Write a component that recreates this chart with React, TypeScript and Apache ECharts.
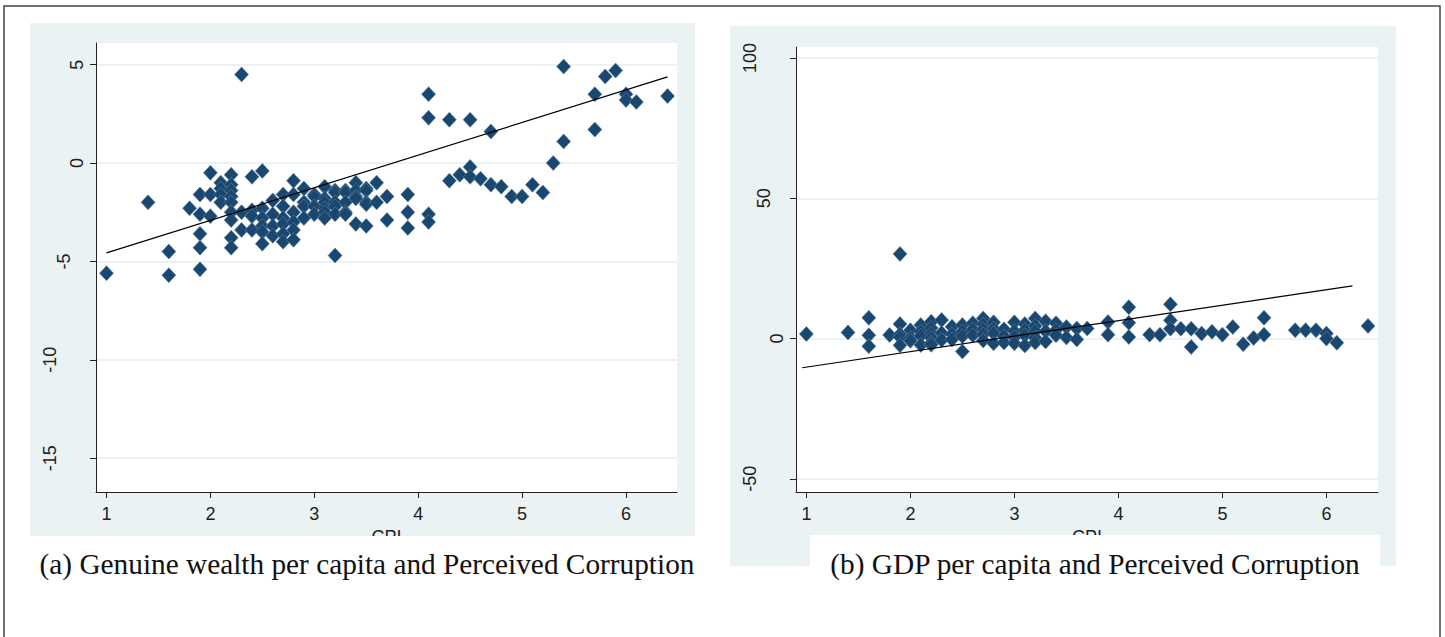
import React, { useEffect, useRef } from "react";
import * as echarts from "echarts";

// ---- Panel (a): Genuine wealth per capita vs CPI ----
const wealthCpi = [
  1.0, 1.4, 1.6, 1.6, 1.8,
  1.9, 1.9, 1.9, 1.9, 1.9,
  2.0, 2.0, 2.0,
  2.1, 2.1, 2.1, 2.1,
  2.2, 2.2, 2.2, 2.2, 2.2, 2.2, 2.2, 2.2, 2.2,
  2.3, 2.3, 2.3,
  2.4, 2.4, 2.4, 2.4,
  2.5, 2.5, 2.5, 2.5, 2.5, 2.5,
  2.6, 2.6, 2.6, 2.6,
  2.7, 2.7, 2.7, 2.7, 2.7, 2.7,
  2.8, 2.8, 2.8, 2.8, 2.8, 2.8,
  2.9, 2.9, 2.9, 2.9,
  3.0, 3.0, 3.0, 3.0,
  3.1, 3.1, 3.1, 3.1, 3.1, 3.1,
  3.2, 3.2, 3.2, 3.2, 3.2, 3.2,
  3.3, 3.3, 3.3, 3.3, 3.3,
  3.4, 3.4, 3.4, 3.4, 3.4,
  3.5, 3.5, 3.5, 3.5, 3.5,
  3.6, 3.6, 3.7, 3.7,
  3.9, 3.9, 3.9,
  4.1, 4.1, 4.1, 4.1,
  4.3, 4.3, 4.4,
  4.5, 4.5, 4.5, 4.6,
  4.7, 4.7, 4.8, 4.9, 5.0, 5.1, 5.2, 5.3,
  5.4, 5.4, 5.7, 5.7, 5.8, 5.9, 6.0, 6.0, 6.1, 6.4,
];
const wealthValues = [
  -5.6, -2.0, -4.5, -5.7, -2.3,
  -1.6, -2.6, -3.6, -4.3, -5.4,
  -0.5, -1.6, -2.7,
  -1.0, -1.3, -1.6, -2.0,
  -0.6, -1.1, -1.4, -1.7, -2.0, -2.5, -2.9, -3.8, -4.3,
  4.5, -2.5, -3.4,
  -0.7, -2.4, -2.7, -3.4,
  -0.4, -2.3, -2.8, -3.2, -3.5, -4.1,
  -1.9, -2.6, -3.2, -3.7,
  -1.6, -2.2, -2.8, -3.1, -3.6, -4.0,
  -0.9, -1.6, -2.5, -3.0, -3.4, -3.9,
  -1.3, -2.0, -2.2, -2.8,
  -1.6, -1.7, -2.2, -2.6,
  -1.2, -1.8, -2.0, -2.3, -2.5, -2.8,
  -1.4, -1.5, -2.0, -2.2, -2.6, -4.7,
  -1.4, -1.5, -2.0, -2.5, -2.6,
  -1.0, -1.4, -1.7, -1.8, -3.1,
  -1.3, -1.4, -2.0, -2.1, -3.2,
  -1.0, -2.0, -1.7, -2.9,
  -1.6, -2.5, -3.3,
  3.5, 2.3, -2.6, -3.0,
  2.2, -0.9, -0.6,
  2.2, -0.2, -0.7, -0.8,
  1.6, -1.1, -1.2, -1.7, -1.7, -1.1, -1.5, 0.0,
  4.9, 1.1, 3.5, 1.7, 4.4, 4.7, 3.5, 3.2, 3.1, 3.4,
];
const wealthFitX = [1.0, 6.4];
const wealthFitY = [-4.57, 4.38];
const wealthYTicks = [-15, -10, -5, 0, 5];

// ---- Panel (b): GDP per capita vs CPI ----
const gdpCpi = [
  1.0, 1.4, 1.6, 1.6, 1.6, 1.8,
  1.9, 1.9, 1.9, 1.9, 1.9,
  2.0, 2.0, 2.0,
  2.1, 2.1, 2.1, 2.1,
  2.2, 2.2, 2.2, 2.2, 2.2, 2.2,
  2.3, 2.3, 2.3,
  2.4, 2.4, 2.4,
  2.5, 2.5, 2.5, 2.5,
  2.6, 2.6, 2.6,
  2.7, 2.7, 2.7, 2.7, 2.7,
  2.8, 2.8, 2.8, 2.8,
  2.9, 2.9, 2.9,
  3.0, 3.0, 3.0, 3.0,
  3.1, 3.1, 3.1, 3.1,
  3.2, 3.2, 3.2, 3.2, 3.2,
  3.3, 3.3, 3.3,
  3.4, 3.4, 3.4,
  3.5, 3.5, 3.6, 3.6, 3.7,
  3.9, 3.9, 4.1, 4.1, 4.1,
  4.3, 4.4, 4.5, 4.5, 4.5, 4.6, 4.7, 4.7,
  4.8, 4.9, 5.0, 5.1, 5.2, 5.3, 5.4, 5.4,
  5.7, 5.8, 5.9, 6.0, 6.0, 6.1, 6.4,
];
const gdpValues = [
  1.6, 2.2, 7.4, 1.2, -2.7, 1.3,
  30.2, 5.2, 1.5, 0.5, -2.4,
  3.0, 0.2, -0.8,
  4.8, 2.5, 1.0, -2.3,
  6.0, 3.8, 1.8, 0.3, -1.5, -2.2,
  6.6, 2.0, -0.5,
  4.2, 1.5, -0.3,
  4.8, 2.5, 0.8, -4.6,
  5.5, 3.2, 1.2,
  7.2, 5.0, 3.3, 1.5, -0.7,
  5.8, 3.5, 1.9, -1.7,
  3.3, 0.8, -1.4,
  5.8, 2.6, 0.5, -1.7,
  5.2, 3.0, 1.2, -2.5,
  7.2, 4.5, 2.6, 0.3, -1.4,
  6.2, 2.6, -1.0,
  5.5, 3.0, 1.2,
  4.1, 0.4, 3.6, -0.3, 3.6,
  5.9, 1.4, 11.2, 5.6, 0.6,
  1.4, 1.4, 12.2, 6.5, 3.5, 3.5, 3.5, -3.0,
  1.8, 2.4, 1.4, 4.1, -2.0, 0.2, 7.4, 1.4,
  3.0, 3.0, 3.0, 1.8, 0.0, -1.5, 4.5,
];
const gdpFitX = [0.96, 6.25];
const gdpFitY = [-10.4, 18.8];
const gdpYTicks = [-50, 0, 50, 100];

const cpiTicks = [1, 2, 3, 4, 5, 6];
const xAxisName = "CPI";
const captionA = "(a) Genuine wealth per capita and Perceived Corruption";
const captionB = "(b) GDP per capita and Perceived Corruption";

const NAVY = "#1a476f";
const BG = "#eaf2f3";
const FONT = "'Liberation Sans', Arial, sans-serif";
const SERIF = "'Liberation Serif', 'Times New Roman', serif";

const zip = (xs: number[], ys: number[]) => xs.map((x, i) => [x, ys[i]]);

function xAxisOpt(gridIndex: number, min: number, max: number) {
  return {
    type: "value",
    gridIndex,
    min,
    max,
    name: xAxisName,
    nameLocation: "middle",
    nameGap: 30,
    nameTextStyle: { fontFamily: FONT, fontSize: 18, color: "#222" },
    axisLine: { show: true, onZero: false, lineStyle: { color: "#222", width: 1 } },
    axisTick: { show: true, customValues: cpiTicks, length: 6, lineStyle: { color: "#222" } },
    axisLabel: { customValues: cpiTicks, margin: 13, fontFamily: FONT, fontSize: 18, color: "#222" },
    splitLine: { show: false },
  };
}

const richStyle = (pad: number) => ({
  fontFamily: FONT,
  fontSize: 18,
  color: "#222",
  padding: [0, 0, pad, 0],
});

function yAxisOpt(gridIndex: number, min: number, max: number, ticks: number[], splitNumber: number) {
  return {
    type: "value",
    gridIndex,
    min,
    max,
    splitNumber,
    axisLine: { show: true, onZero: false, lineStyle: { color: "#222", width: 1 } },
    axisTick: { show: true, customValues: ticks, length: 6, lineStyle: { color: "#222" } },
    axisLabel: {
      customValues: ticks,
      rotate: 90,
      margin: 10,
      formatter: (v: number) => {
        const s = String(v);
        return `{l${s.length}|${s}}`;
      },
      rich: { l1: richStyle(0), l2: richStyle(13), l3: richStyle(27) },
    },
    splitLine: { show: true, lineStyle: { color: BG, width: 2 } },
  };
}

export default function App() {
  const ref = useRef<HTMLDivElement>(null);
  useEffect(() => {
    if (!ref.current) return;
    const chart = echarts.init(ref.current, undefined, { renderer: "svg" });
    const option = {
      animation: false,
      backgroundColor: "#ffffff",
      grid: [
        { left: 96, top: 43, width: 581, height: 449, show: true, backgroundColor: "#ffffff", borderWidth: 0 },
        { left: 796, top: 47, width: 582, height: 445, show: true, backgroundColor: "#ffffff", borderWidth: 0 },
      ],
      xAxis: [xAxisOpt(0, 0.899, 6.491), xAxisOpt(1, 0.9, 6.496)],
      yAxis: [
        yAxisOpt(0, -16.72, 6.1, wealthYTicks, 5),
        yAxisOpt(1, -54.7, 103.96, gdpYTicks, 3),
      ],
      series: [
        {
          type: "scatter",
          xAxisIndex: 0,
          yAxisIndex: 0,
          data: zip(wealthCpi, wealthValues),
          symbol: "diamond",
          symbolSize: [14, 15],
          itemStyle: { color: NAVY, borderColor: "#5f7f9c", borderWidth: 0.6, opacity: 1 },
          z: 2,
        },
        {
          type: "line",
          xAxisIndex: 0,
          yAxisIndex: 0,
          data: zip(wealthFitX, wealthFitY),
          showSymbol: false,
          symbol: "none",
          lineStyle: { color: "#000", width: 1.2 },
          z: 3,
        },
        {
          type: "scatter",
          xAxisIndex: 1,
          yAxisIndex: 1,
          data: zip(gdpCpi, gdpValues),
          symbol: "diamond",
          symbolSize: [14, 15],
          itemStyle: { color: NAVY, borderColor: "#5f7f9c", borderWidth: 0.6, opacity: 1 },
          z: 2,
        },
        {
          type: "line",
          xAxisIndex: 1,
          yAxisIndex: 1,
          data: zip(gdpFitX, gdpFitY),
          showSymbol: false,
          symbol: "none",
          lineStyle: { color: "#000", width: 1.2 },
          z: 3,
        },
      ],
      graphic: [
        { type: "rect", z: -10, shape: { x: 30, y: 23, width: 665, height: 513 }, style: { fill: BG } },
        { type: "rect", z: -10, shape: { x: 730, y: 26, width: 666, height: 540 }, style: { fill: BG } },
        { type: "rect", z: 50, shape: { x: 30, y: 536, width: 665, height: 30 }, style: { fill: "#ffffff" } },
        { type: "rect", z: 50, shape: { x: 810, y: 535, width: 570, height: 50 }, style: { fill: "#ffffff" } },
        {
          type: "text",
          z: 60,
          x: 367,
          y: 564,
          style: {
            text: captionA,
            fontFamily: SERIF,
            fontSize: 29.3,
            fill: "#111",
            textAlign: "center",
            textVerticalAlign: "middle",
          },
        },
        {
          type: "text",
          z: 60,
          x: 1095,
          y: 564,
          style: {
            text: captionB,
            fontFamily: SERIF,
            fontSize: 29.3,
            fill: "#111",
            textAlign: "center",
            textVerticalAlign: "middle",
          },
        },
        {
          type: "rect",
          z: 100,
          shape: { x: 4, y: 6, width: 1436, height: 700 },
          style: { fill: "none", stroke: "#444", lineWidth: 1.5 },
        },
      ],
    };
    chart.setOption(option as any);
    return () => chart.dispose();
  }, []);
  return (
    <div
      ref={ref}
      style={{ position: "fixed", left: 0, top: 0, width: 1445, height: 637 }}
    />
  );
}
